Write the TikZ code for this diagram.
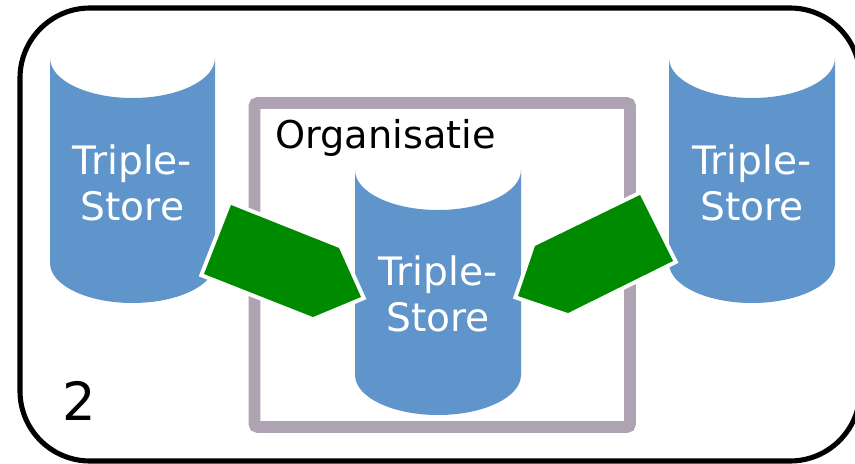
\documentclass[tikz,border=0pt]{standalone}
\usepackage{fontspec}
\setmainfont{DejaVu Sans}
\tikzset{
	storebody/.style={fill=storeblue},
	storelabel/.style={text=white,align=center,font=\fontsize{22.3}{26}\selectfont},
	organisatiebox/.style={draw=orggray,line width=6.8pt,rounded corners=2pt},
	outerbox/.style={draw=black,line width=2.9pt,rounded corners=1.4cm},
	flowblock/.style={fill=flowgreen,preaction={draw=white,line width=4.6pt}}
}
\definecolor{storeblue}{HTML}{5F95CB}
\definecolor{orggray}{HTML}{ADA3B3}
\definecolor{flowgreen}{HTML}{008A00}
\begin{document}
\begin{tikzpicture}[x=0.02cm,y=-0.02cm]
	\useasboundingbox (0,0) rectangle (855,463);
	\draw[outerbox] (20,8) rectangle (860,461);
	\fill[storebody] (50,58)--(50,263) arc[start angle=180,end angle=0,x radius=82.5,y radius=40]--(215,58) arc[start angle=0,end angle=180,x radius=82.5,y radius=40]--cycle;
	\fill[storebody] (669,58)--(669,263) arc[start angle=180,end angle=0,x radius=83,y radius=40]--(835,58) arc[start angle=0,end angle=180,x radius=83,y radius=40]--cycle;
	\draw[organisatiebox] (254.5,103) rectangle (630,427);
	\fill[storebody] (355,170)--(355,375) arc[start angle=180,end angle=0,x radius=83,y radius=40]--(521,170) arc[start angle=0,end angle=180,x radius=83,y radius=40]--cycle;
	\node[storelabel] (storeleft) at (132.5,183) {Triple-\\Store};
	\node[storelabel] (storemid) at (438,294) {Triple-\\Store};
	\node[storelabel] (storeright) at (752,183) {Triple-\\Store};
	\node[font=\fontsize{21.8}{26}\selectfont,anchor=west,inner sep=0pt] (organisatie) at (275,138) {Organisatie};
	\node[font=\fontsize{30}{36}\selectfont,inner sep=0pt] (scenario) at (79,401) {2};
	\path[flowblock] (231,205)--(339,248)--(361,297)--(313,317)--(204,274)--cycle;
	\path[flowblock] (640,195)--(673,261)--(568,313)--(518,296)--(535,246)--cycle;
\end{tikzpicture}
\end{document}
